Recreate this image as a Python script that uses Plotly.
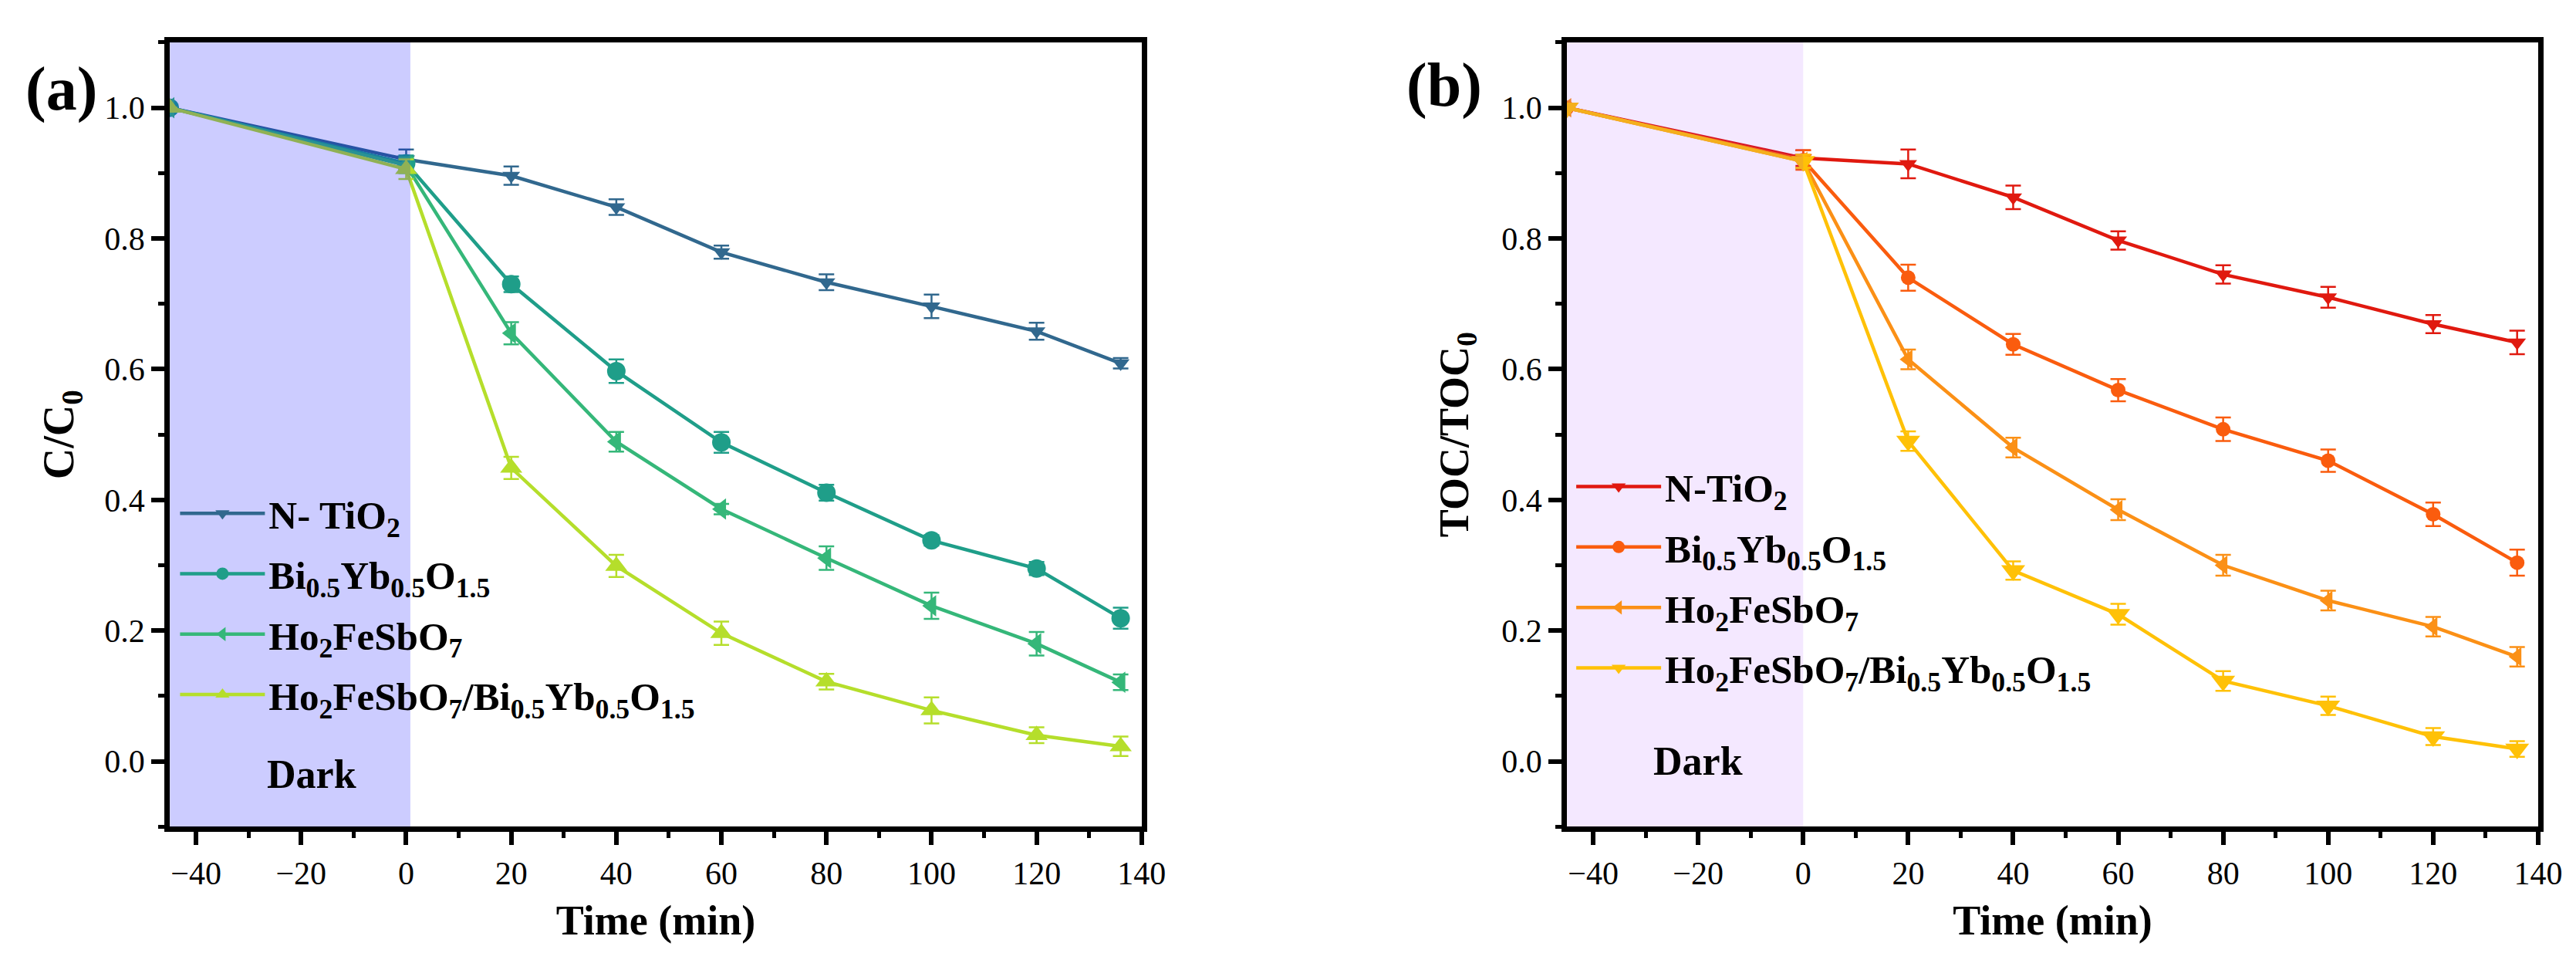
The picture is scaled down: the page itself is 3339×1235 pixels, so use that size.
import plotly.graph_objects as go

# sampling times (min); -45..0 is the dark adsorption stage
time_min = [-45, 0, 20, 40, 60, 80, 100, 120, 136]

series_names_a = [
    "N- TiO<sub>2</sub>",
    "Bi<sub>0.5</sub>Yb<sub>0.5</sub>O<sub>1.5</sub>",
    "Ho<sub>2</sub>FeSbO<sub>7</sub>",
    "Ho<sub>2</sub>FeSbO<sub>7</sub>/Bi<sub>0.5</sub>Yb<sub>0.5</sub>O<sub>1.5</sub>",
]
series_names_b = [
    "N-TiO<sub>2</sub>",
    "Bi<sub>0.5</sub>Yb<sub>0.5</sub>O<sub>1.5</sub>",
    "Ho<sub>2</sub>FeSbO<sub>7</sub>",
    "Ho<sub>2</sub>FeSbO<sub>7</sub>/Bi<sub>0.5</sub>Yb<sub>0.5</sub>O<sub>1.5</sub>",
]

# (a) C/C0
a_ntio2 = [1.0, 0.921, 0.896, 0.848, 0.779, 0.733, 0.696, 0.658, 0.609]
a_ntio2_err = [0, 0.015, 0.014, 0.012, 0.010, 0.012, 0.018, 0.013, 0.008]
a_bi = [1.0, 0.915, 0.730, 0.597, 0.488, 0.411, 0.338, 0.295, 0.219]
a_bi_err = [0, 0.012, 0.012, 0.018, 0.016, 0.012, 0.008, 0.010, 0.016]
a_ho = [1.0, 0.912, 0.655, 0.489, 0.386, 0.311, 0.238, 0.180, 0.121]
a_ho_err = [0, 0.012, 0.017, 0.015, 0.008, 0.018, 0.020, 0.018, 0.012]
a_comp = [1.0, 0.906, 0.449, 0.299, 0.196, 0.122, 0.078, 0.040, 0.023]
a_comp_err = [0, 0.015, 0.017, 0.017, 0.018, 0.012, 0.020, 0.012, 0.015]

# (b) TOC/TOC0
b_ntio2 = [1.0, 0.923, 0.914, 0.863, 0.797, 0.745, 0.710, 0.669, 0.641]
b_ntio2_err = [0, 0.012, 0.022, 0.018, 0.014, 0.014, 0.016, 0.014, 0.018]
b_bi = [1.0, 0.920, 0.740, 0.638, 0.568, 0.508, 0.460, 0.378, 0.304]
b_bi_err = [0, 0.015, 0.020, 0.016, 0.017, 0.018, 0.017, 0.018, 0.020]
b_ho = [1.0, 0.918, 0.615, 0.480, 0.385, 0.300, 0.246, 0.206, 0.160]
b_ho_err = [0, 0.010, 0.015, 0.015, 0.016, 0.016, 0.015, 0.015, 0.015]
b_comp = [1.0, 0.918, 0.490, 0.292, 0.225, 0.123, 0.085, 0.038, 0.019]
b_comp_err = [0, 0.010, 0.015, 0.014, 0.016, 0.015, 0.014, 0.013, 0.012]

colors_a = ["#31688e", "#1f9e89", "#35b779", "#b5de2b"]
colors_b = ["#e0190f", "#fa5c0e", "#fb9016", "#ffc107"]
symbols_a = ["triangle-down", "circle", "triangle-left", "triangle-up"]
symbols_b = ["triangle-down", "circle", "triangle-left", "triangle-down"]
sizes_a = [20, 24, 24, 25]
sizes_b = [20, 19, 22, 27]

FONT = "Liberation Serif"

fig = go.Figure()

panel_a = [(a_ntio2, a_ntio2_err), (a_bi, a_bi_err), (a_ho, a_ho_err), (a_comp, a_comp_err)]
panel_b = [(b_ntio2, b_ntio2_err), (b_bi, b_bi_err), (b_ho, b_ho_err), (b_comp, b_comp_err)]

for i, (y, err) in enumerate(panel_a):
    fig.add_trace(go.Scatter(
        x=time_min, y=y, name=series_names_a[i], mode="lines+markers",
        line=dict(color=colors_a[i], width=4.5),
        marker=dict(symbol=symbols_a[i], size=sizes_a[i], color=colors_a[i]),
        error_y=dict(type="data", array=err, color=colors_a[i], thickness=2.5, width=10),
        xaxis="x", yaxis="y", legend="legend", legendgroup="a%d" % i,
    ))

for i, (y, err) in enumerate(panel_b):
    fig.add_trace(go.Scatter(
        x=time_min, y=y, name=series_names_b[i], mode="lines+markers",
        line=dict(color=colors_b[i], width=4.5),
        marker=dict(symbol=symbols_b[i], size=sizes_b[i], color=colors_b[i]),
        error_y=dict(type="data", array=err, color=colors_b[i], thickness=2.5, width=10),
        xaxis="x2", yaxis="y2", legend="legend2", legendgroup="b%d" % i,
    ))

# dark stage shading (drawn over the curves, semi-transparent)
fig.add_shape(type="rect", xref="x", yref="y domain", x0=-45, x1=0.8, y0=0, y1=1,
              fillcolor="#0000ff", opacity=0.2, line_width=0, layer="above")
fig.add_shape(type="rect", xref="x2", yref="y2 domain", x0=-45, x1=0, y0=0, y1=1,
              fillcolor="#8000ff", opacity=0.09, line_width=0, layer="above")

xax = dict(
    range=[-45, 140], tickvals=list(range(-40, 141, 20)),
    ticks="outside", ticklen=17, tickwidth=6, tickcolor="black",
    minor=dict(dtick=10, tick0=0, ticks="outside", ticklen=8, tickwidth=5, tickcolor="black"),
    showline=True, linewidth=7, linecolor="black", mirror=True,
    showgrid=False, zeroline=False,
    tickfont=dict(family=FONT, size=42, color="black"),
    title=dict(text="Time (min)", font=dict(family=FONT, size=54, color="black", weight="bold"), standoff=22),
    automargin=False,
)
yax = dict(
    range=[-0.1, 1.1], tickvals=[0, 0.2, 0.4, 0.6, 0.8, 1.0], tickformat=".1f",
    ticks="outside", ticklen=17, tickwidth=6, tickcolor="black",
    minor=dict(dtick=0.1, tick0=0, ticks="outside", ticklen=8, tickwidth=5, tickcolor="black"),
    showline=True, linewidth=7, linecolor="black", mirror=True,
    showgrid=False, zeroline=False,
    tickfont=dict(family=FONT, size=42, color="black"),
    domain=[0.139, 0.962], automargin=False,
)

legend_font = dict(family=FONT, size=51, color="black", weight="bold")

fig.update_layout(
    width=3339, height=1235,
    paper_bgcolor="white", plot_bgcolor="white",
    margin=dict(l=0, r=0, t=0, b=0),
    xaxis=dict(xax, domain=[0.0635, 0.4408], anchor="y"),
    yaxis=dict(yax, anchor="x",
               title=dict(text="C/C<sub>0</sub>", font=dict(family=FONT, size=56, color="black", weight="bold"), standoff=24)),
    xaxis2=dict(xax, domain=[0.6059, 0.9829], anchor="y2"),
    yaxis2=dict(yax, anchor="x2",
                title=dict(text="TOC/TOC<sub>0</sub>", font=dict(family=FONT, size=54, color="black", weight="bold"), standoff=28)),
    legend=dict(x=0.066, y=0.5, xanchor="left", yanchor="top", bgcolor="rgba(0,0,0,0)",
                font=legend_font, itemwidth=110, tracegroupgap=9),
    legend2=dict(x=0.608, y=0.528, xanchor="left", yanchor="top", bgcolor="rgba(0,0,0,0)",
                 font=legend_font, itemwidth=110, tracegroupgap=9),
    showlegend=True,
    annotations=[
        dict(text="(a)", x=0.007, y=0.913, xref="paper", yref="paper", xanchor="left", yanchor="middle",
             showarrow=False, font=dict(family=FONT, size=80, color="black", weight="bold")),
        dict(text="(b)", x=0.543, y=0.917, xref="paper", yref="paper", xanchor="left", yanchor="middle",
             showarrow=False, font=dict(family=FONT, size=80, color="black", weight="bold")),
        dict(text="Dark", x=-18, y=-0.02, xref="x", yref="y", showarrow=False,
             font=dict(family=FONT, size=52, color="black", weight="bold")),
        dict(text="Dark", x=-20, y=0.0, xref="x2", yref="y2", showarrow=False,
             font=dict(family=FONT, size=52, color="black", weight="bold")),
    ],
)

fig.write_html("out.html")
